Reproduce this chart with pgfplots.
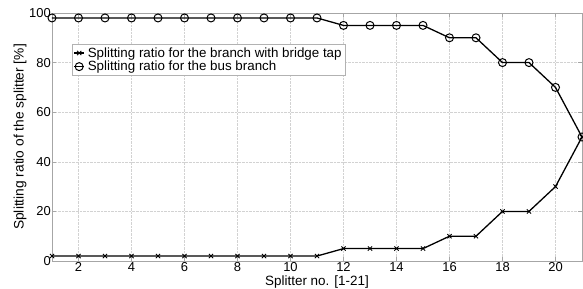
\documentclass[border=0pt]{standalone}
\usepackage{pgfplots}
\pgfplotsset{compat=1.18}
\usepackage{fontspec}
\setmainfont{Liberation Sans}
\begin{document}
\begin{tikzpicture}[x=1bp,y=1bp]
\begin{axis}[
  name=ax,
  scale only axis,
  width=530bp, height=248bp,
  xmin=1, xmax=21, ymin=0, ymax=100,
  xtick={2,4,...,20}, ytick={0,20,...,100},
  grid=major,
  grid style={densely dotted, gray!35},
  axis line style={gray!70},
  tick style={gray!70},
  tick align=inside,
  major tick length=4bp,
  /pgf/number format/assume math mode=true,
  tick label style={font=\fontsize{13}{13}\selectfont},
  xticklabel style={inner sep=1.5bp},
  yticklabel style={inner sep=1bp},
  xlabel={Splitter no. [1-21]},
  ylabel={Splitting ratio of the splitter [\%]},
  xlabel style={font=\fontsize{13.5}{13.5}\selectfont, at={(axis description cs:0.5,-0.085)}, anchor=center},
  ylabel style={font=\fontsize{13.8}{13.8}\selectfont, at={(axis description cs:-0.0604,0.5)}, anchor=center},
  legend style={at={(0.038,0.875)}, anchor=north west, draw=gray!60, font=\fontsize{13.4}{13.4}\selectfont, inner sep=1.2bp, row sep=-1.5bp, legend cell align=left, /tikz/every odd column/.append style={column sep=1bp}},
  legend image code/.code={\draw[mark repeat=2,mark phase=2] plot coordinates {(0bp,0bp)(5bp,0bp)(10bp,0bp)};},
]
\addplot[black, line width=1.3pt, mark=x, mark size=3bp, mark options={line width=0.9pt}] coordinates {
(1,2)(2,2)(3,2)(4,2)(5,2)(6,2)(7,2)(8,2)(9,2)(10,2)(11,2)
(12,5)(13,5)(14,5)(15,5)(16,10)(17,10)(18,20)(19,20)(20,30)(21,50)};
\addlegendentry{Splitting ratio for the branch with bridge tap}
\addplot[black, line width=1.3pt, mark=o, mark size=4bp, mark options={line width=1pt}] coordinates {
(1,98)(2,98)(3,98)(4,98)(5,98)(6,98)(7,98)(8,98)(9,98)(10,98)(11,98)
(12,95)(13,95)(14,95)(15,95)(16,90)(17,90)(18,80)(19,80)(20,70)(21,50)};
\addlegendentry{Splitting ratio for the bus branch}
\end{axis}
\pgfresetboundingbox
\path (ax.south west) ++(-52bp,-28bp) rectangle ([xshift=1bp,yshift=13bp]ax.north east);
\end{tikzpicture}
\end{document}
